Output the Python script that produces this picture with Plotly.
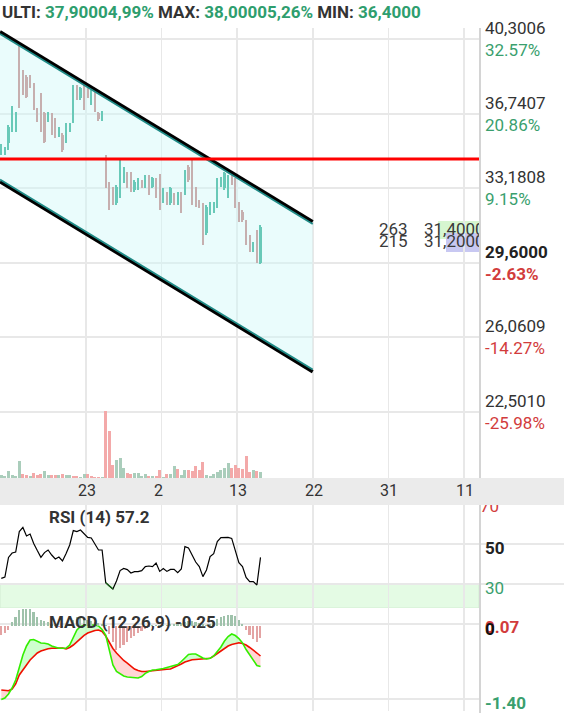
import plotly.graph_objects as go

W, H = 564, 713
FONT = "Roboto"

# ---------------- data ----------------
date_labels = ["23", "2", "13", "22", "31", "11"]
date_pos = [23.5, 44.5, 65.5, 86.5, 107.5, 128.5]
thick_grid = [23.5, 65.5, 86.5, 128.5]
thin_grid = [44.5, 107.5]

opens = [34.81, 34.81, 35.32, 35.95, 35.95, 40.01, 38.74, 38.50, 38.50, 38.10,
         36.91, 37.63, 36.75, 36.43, 36.67, 36.43, 35.71, 35.71, 35.40, 35.95,
         36.35, 38.02, 37.47, 38.02, 37.86, 37.23, 37.78, 36.75, 36.46, 34.50,
         33.40, 33.17, 32.45, 32.77, 33.48, 33.88, 33.88, 33.09, 33.17, 33.48,
         33.25, 33.72, 33.25, 33.56, 33.77, 32.53, 32.93, 32.45, 32.85, 32.45,
         32.93, 32.93, 34.20, 34.44, 33.17, 32.53, 32.37, 31.02, 31.97, 32.05,
         32.29, 33.33, 33.17, 32.77, 33.88, 33.56, 32.45, 32.05, 31.57, 30.86,
         30.22, 31.10, 29.61]
highs = [35.30, 35.14, 36.19, 37.10, 36.82, 40.08, 38.82, 38.58, 38.58, 38.18,
         36.99, 37.71, 36.83, 36.83, 36.75, 36.51, 36.11, 35.79, 36.27, 36.30,
         38.10, 38.10, 38.02, 38.10, 37.94, 37.86, 37.86, 36.83, 36.86, 34.76,
         33.48, 33.25, 33.33, 34.52, 34.20, 33.96, 33.96, 33.56, 33.64, 33.56,
         33.80, 33.80, 33.72, 33.64, 33.85, 33.17, 33.01, 33.25, 32.93, 33.01,
         33.01, 34.04, 34.28, 34.52, 33.25, 32.61, 32.45, 32.37, 32.53, 32.53,
         33.64, 33.72, 33.96, 33.80, 33.96, 33.64, 32.53, 32.13, 31.65, 30.94,
         30.62, 31.18, 31.41]
lows = [34.74, 34.74, 35.00, 35.88, 35.88, 37.00, 37.63, 37.47, 37.94, 36.91,
        36.35, 35.87, 35.32, 36.35, 35.71, 35.55, 35.63, 34.92, 35.32, 35.87,
        36.27, 37.39, 37.39, 36.91, 37.47, 37.15, 36.83, 36.38, 36.38, 33.17,
        32.13, 32.37, 32.37, 32.69, 33.40, 33.17, 33.01, 33.01, 33.09, 33.17,
        33.17, 32.85, 33.17, 32.69, 32.13, 32.45, 32.37, 32.37, 32.37, 32.37,
        31.97, 32.85, 33.48, 32.37, 32.29, 32.21, 30.46, 30.94, 31.89, 31.97,
        32.21, 33.25, 33.09, 32.69, 33.32, 32.21, 31.57, 31.57, 30.46, 30.14,
        30.14, 29.58, 29.53]
closes = [35.24, 35.08, 36.11, 37.04, 36.75, 37.07, 37.71, 37.55, 38.02, 36.99,
          36.43, 35.95, 35.40, 36.75, 35.79, 35.63, 36.03, 35.00, 36.19, 36.22,
          38.02, 37.47, 37.94, 36.99, 37.55, 37.78, 36.91, 36.46, 36.78, 33.25,
          32.21, 32.45, 33.25, 34.20, 34.12, 33.25, 33.09, 33.48, 33.56, 33.25,
          33.72, 32.93, 33.64, 32.77, 32.21, 33.09, 32.45, 33.17, 32.45, 32.93,
          32.05, 33.96, 33.56, 32.45, 32.37, 32.29, 30.54, 32.29, 32.45, 32.45,
          33.56, 33.64, 33.88, 33.72, 33.40, 32.29, 31.65, 31.65, 30.54, 30.22,
          30.54, 29.66, 31.33]

volumes = [3, 2, 7, 3, 2, 17, 4, 3, 2, 5, 3, 4, 7, 3, 3, 3, 3, 4, 3, 3,
           2, 2, 1, 4, 4, 2, 1, 1, 1, 67, 47, 13, 18, 20, 10, 5, 4, 5, 5, 2,
           4, 2, 2, 2, 8, 1, 4, 4, 12, 9, 3, 8, 8, 7, 12, 8, 16, 3, 2, 4,
           6, 8, 10, 15, 10, 13, 10, 9, 22, 6, 8, 7, 6]
volume_up = "gggggg rrgrrrggrrgrgg rrggrrrrg rrrgggrrggggrgrrgrggrgg rrrrrggggggg rrrrrrgrg".replace(" ", "")

rsi = [32.8, 33.5, 43.3, 45.5, 46.0, 56.2, 58.3, 54.0, 55.0, 50.3,
       46.7, 43.3, 45.7, 47.0, 44.5, 42.5, 43.5, 41.5, 45.3, 49.5,
       56.7, 56.2, 57.0, 55.0, 53.3, 53.0, 50.0, 47.0, 47.0, 30.7,
       29.0, 27.5, 31.5, 36.7, 37.8, 37.2, 35.5, 36.2, 36.2, 36.7,
       38.7, 39.0, 38.7, 40.5, 36.3, 37.7, 36.3, 37.3, 37.3, 35.7,
       37.5, 48.7, 48.0, 44.3, 41.0, 38.7, 33.7, 37.0, 43.7, 45.2,
       51.2, 53.2, 53.3, 53.3, 52.8, 47.0, 40.7, 38.7, 33.3, 31.2,
       31.2, 29.5, 43.3]

macd = [-1.409, -1.381, -1.306, -1.194, -1.045, -0.821, -0.578, -0.410, -0.299, -0.289,
        -0.326, -0.354, -0.360, -0.373, -0.410, -0.429, -0.453, -0.453, -0.448, -0.392,
        -0.237, -0.112, -0.047, -0.024, -0.019, -0.019, -0.019, -0.037, -0.103, -0.205,
        -0.485, -0.765, -0.886, -0.933, -0.970, -0.989, -0.998, -1.007, -1.007, -0.979,
        -0.920, -0.886, -0.858, -0.853, -0.845, -0.830, -0.812, -0.797, -0.776, -0.756,
        -0.700, -0.625, -0.569, -0.560, -0.560, -0.597, -0.634, -0.653, -0.640, -0.597,
        -0.522, -0.429, -0.317, -0.233, -0.187, -0.215, -0.271, -0.354, -0.476, -0.578,
        -0.672, -0.774, -0.793]
signal = [-1.231, -1.237, -1.244, -1.213, -1.119, -0.951, -0.868, -0.765, -0.672, -0.597,
          -0.541, -0.504, -0.481, -0.463, -0.451, -0.448, -0.444, -0.448, -0.466, -0.438,
          -0.392, -0.326, -0.261, -0.211, -0.168, -0.140, -0.121, -0.112, -0.140, -0.224,
          -0.336, -0.457, -0.541, -0.616, -0.681, -0.728, -0.793, -0.840, -0.868, -0.886,
          -0.886, -0.877, -0.873, -0.868, -0.858, -0.853, -0.845, -0.840, -0.812, -0.784,
          -0.746, -0.709, -0.681, -0.668, -0.662, -0.659, -0.653, -0.647, -0.640, -0.597,
          -0.550, -0.504, -0.457, -0.410, -0.382, -0.364, -0.349, -0.364, -0.392, -0.438,
          -0.485, -0.541, -0.597]
hist = [-9, -7, -4, 4, 9, 16, 17, 17, 17, 14, 9, 6, 5, 4, 2, 1, -0.5, -0.5, 1, 2,
        6, 9, 9, 8, 6, 5, 4, 3, 2, 1, -8, -16, -24, -22, -19, -16, -12, -10, -7, -5,
        -3, -1, 1, 1, 1, 1, 1, 2, 2, 2, 3, 4, 5, 5, 4, 3, 2, 1, 2, 4,
        7, 9, 10, 11, 11, 10, 6, 2, -4, -9, -13, -16, -12]

channel_x = [-0.36, 86.5]
channel_upper = [40.649, 31.571]
channel_lower = [33.483, 24.405]
resistance = 34.567

price_ticks = [40.3006, 36.7407, 33.1808, 29.6000, 26.0609, 22.5010]
price_text = ["40,3006", "36,7407", "33,1808", "29,6000", "26,0609", "22,5010"]
pct_text = ["32.57%", "20.86%", "9.15%", "-2.63%", "-14.27%", "-25.98%"]

book_qty = ["263", "215"]
book_px = ["31,4000", "31,2000"]

# ---------------- geometry helpers (layout only) ----------------
PX_PER_BAR = 3.6
X0 = -0.36
XR = [X0, 479 / PX_PER_BAR + X0]
PRICE_R = [19.326, 40.826]          # px 478 .. 28
PPX = 20.93                          # px per price unit


def idx_of(px):
    return px / PX_PER_BAR + X0


def price_of(py):
    return 40.3006 - (py - 39) / PPX


def ypap(py):
    return 1 - py / H


n = len(closes)
xs = list(range(n))

G_CANDLE, R_CANDLE = "#22a88a", "#c27a7a"
G_VOL, R_VOL = "#aacdbb", "#f3a9a9"
G_HIST, R_HIST = "#9fc2ab", "#e3a3a3"
GRID = "#e8e8e8"
TXT = "#333333"
GREEN_T = "#3a9f6e"
RED_T = "#d23c3c"

fig = go.Figure()

# channel fill
fig.add_trace(go.Scatter(
    x=[channel_x[0], channel_x[1], channel_x[1], channel_x[0], channel_x[0]],
    y=[channel_upper[0], channel_upper[1], channel_lower[1], channel_lower[0], channel_upper[0]],
    fill="toself", fillcolor="rgba(205,248,248,0.42)", line=dict(width=0),
    mode="lines", hoverinfo="skip", showlegend=False))

# order book backgrounds
fig.add_shape(type="rect", xref="x", yref="y", x0=idx_of(438), x1=idx_of(481),
              y0=price_of(239), y1=price_of(221), fillcolor="#d6f6d0", line_width=0, layer="below")
fig.add_shape(type="rect", xref="x", yref="y", x0=idx_of(446), x1=idx_of(481),
              y0=price_of(252), y1=price_of(233), fillcolor="#c8c8f2", line_width=0, layer="below")

up = [c >= o for o, c in zip(opens, closes)]
ccol = [G_CANDLE if u else R_CANDLE for u in up]

# wicks
fig.add_trace(go.Bar(x=xs, y=[h - l for h, l in zip(highs, lows)], base=lows,
                     width=0.3, marker=dict(color=ccol, line_width=0),
                     hoverinfo="skip", showlegend=False))
# bodies
fig.add_trace(go.Bar(x=xs, y=[max(abs(c - o), 0.04) for o, c in zip(opens, closes)],
                     base=[min(o, c) for o, c in zip(opens, closes)],
                     width=0.62, marker=dict(color=ccol, line_width=0),
                     hoverinfo="skip", showlegend=False))

# channel lines: black edge + teal inner
off = 2.2 / PPX
for ys, sgn in ((channel_upper, -1), (channel_lower, 1)):
    fig.add_trace(go.Scatter(x=channel_x, y=ys, mode="lines",
                             line=dict(color="#000000", width=3.4), hoverinfo="skip", showlegend=False))
    fig.add_trace(go.Scatter(x=channel_x, y=[v + sgn * off for v in ys], mode="lines",
                             line=dict(color="#1f8a86", width=1.8), hoverinfo="skip", showlegend=False))

# resistance line
fig.add_trace(go.Scatter(x=XR, y=[resistance, resistance], mode="lines",
                         line=dict(color="#ff0000", width=3), hoverinfo="skip", showlegend=False))

# order book text (clipped at plot edge)
for k, (q, p) in enumerate(zip(book_qty, book_px)):
    yv = price_of(231 + 12 * k)
    fig.add_trace(go.Scatter(x=[idx_of(379), idx_of(424)], y=[yv, yv], mode="text",
                             text=[q, p], textposition="middle right", cliponaxis=True,
                             textfont=dict(family=FONT, size=17, color="#3a3a3a"),
                             hoverinfo="skip", showlegend=False))

# volume (overlay axis)
fig.add_trace(go.Bar(x=xs, y=volumes, yaxis="y4", width=0.82,
                     marker=dict(color=[G_VOL if c == "g" else R_VOL for c in volume_up], line_width=0),
                     hoverinfo="skip", showlegend=False))

# RSI
fig.add_trace(go.Scatter(x=xs, y=rsi, xaxis="x2", yaxis="y2", mode="lines",
                         line=dict(color="#000000", width=1.2), hoverinfo="skip", showlegend=False))
seg = []
for i, v in enumerate(rsi):
    near = any(rsi[j] < 30 for j in range(max(0, i - 1), min(n, i + 2)))
    seg.append(v if (near and v < 31) else None)
fig.add_trace(go.Scatter(x=xs, y=seg, xaxis="x2", yaxis="y2", mode="lines",
                         line=dict(color="#1a6e1a", width=1.2), connectgaps=False,
                         hoverinfo="skip", showlegend=False))

# MACD histogram (overlay axis)
fig.add_trace(go.Bar(x=xs, y=hist, xaxis="x3", yaxis="y5", width=0.45,
                     marker=dict(color=[G_HIST if h >= 0 else R_HIST for h in hist], line_width=0),
                     hoverinfo="skip", showlegend=False))

# MACD fills (insert crossings)
fx, fm, fs = [], [], []
for i in range(n):
    fx.append(i); fm.append(macd[i]); fs.append(signal[i])
    if i < n - 1:
        d0 = macd[i] - signal[i]
        d1 = macd[i + 1] - signal[i + 1]
        if d0 * d1 < 0:
            t = d0 / (d0 - d1)
            yc = macd[i] + t * (macd[i + 1] - macd[i])
            fx.append(i + t); fm.append(yc); fs.append(yc)
hi = [max(a, b) for a, b in zip(fm, fs)]
lo = [min(a, b) for a, b in zip(fm, fs)]
for yy, col in ((hi, "rgba(190,255,190,0.75)"), (lo, "rgba(255,200,200,0.75)")):
    fig.add_trace(go.Scatter(x=fx, y=fs, xaxis="x3", yaxis="y3", mode="lines",
                             line=dict(width=0), hoverinfo="skip", showlegend=False))
    fig.add_trace(go.Scatter(x=fx, y=yy, xaxis="x3", yaxis="y3", mode="lines",
                             line=dict(width=0), fill="tonexty", fillcolor=col,
                             hoverinfo="skip", showlegend=False))
fig.add_trace(go.Scatter(x=xs, y=signal, xaxis="x3", yaxis="y3", mode="lines",
                         line=dict(color="#f01000", width=1.6), hoverinfo="skip", showlegend=False))
fig.add_trace(go.Scatter(x=xs, y=macd, xaxis="x3", yaxis="y3", mode="lines",
                         line=dict(color="#33ee00", width=1.6), hoverinfo="skip", showlegend=False))

# "70" label clipped by its own little subplot
fig.add_trace(go.Scatter(x=[0.0], y=[68], xaxis="x4", yaxis="y2", mode="text", text=["70"],
                         textposition="middle right", cliponaxis=True,
                         textfont=dict(family=FONT, size=17, color=RED_T),
                         hoverinfo="skip", showlegend=False))

# ---------------- layout ----------------
XD = [0, 479 / W]
price_dom = [ypap(478), ypap(28)]
rsi_dom = [ypap(608), ypap(505)]
macd_dom = [ypap(711), ypap(608)]

xcommon = dict(range=XR, showticklabels=False, zeroline=False, showline=False,
               tickvals=thick_grid, showgrid=True, gridcolor=GRID, gridwidth=2,
               minor=dict(tickvals=thin_grid, showgrid=True, gridcolor=GRID, gridwidth=1),
               fixedrange=True)
ycommon = dict(showticklabels=False, zeroline=False, showline=False, showgrid=True,
               gridcolor=GRID, fixedrange=True)

fig.update_layout(
    width=W, height=H, margin=dict(l=0, r=0, t=0, b=0),
    paper_bgcolor="white", plot_bgcolor="rgba(0,0,0,0)",
    barmode="overlay", bargap=0, showlegend=False,
    font=dict(family=FONT, color=TXT),
    xaxis=dict(domain=XD, anchor="y", **xcommon),
    xaxis2=dict(domain=XD, anchor="y2", matches="x", **xcommon),
    xaxis3=dict(domain=XD, anchor="y3", matches="x", **xcommon),
    xaxis4=dict(domain=[480 / W, 1], anchor="y2", range=[0, 1], visible=False, fixedrange=True),
    yaxis=dict(domain=price_dom, range=PRICE_R, tickvals=price_ticks, gridwidth=2, **ycommon),
    yaxis4=dict(overlaying="y", range=[0, 450], visible=False, fixedrange=True),
    yaxis2=dict(domain=rsi_dom, range=[18, 69.5], tickvals=[50, 30], gridwidth=1.5, **ycommon),
    yaxis3=dict(domain=macd_dom, range=[-1.623, 0.2985], tickvals=[0, -1.40], gridwidth=1.5, **ycommon),
    yaxis5=dict(overlaying="y3", range=[-85, 18], visible=False, fixedrange=True),
)

shapes = [
    # date band
    dict(type="rect", xref="paper", yref="paper", x0=0, x1=1, y0=ypap(505), y1=ypap(478),
         fillcolor="#ebebeb", line_width=0, layer="below"),
    # RSI oversold band
    dict(type="rect", xref="x2", yref="y2", x0=XR[0], x1=XR[1], y0=18, y1=30,
         fillcolor="#e4fbe4", line=dict(color="#d2ecd2", width=1), layer="below"),
    # right axis line
    dict(type="line", xref="paper", yref="paper", x0=480 / W, x1=480 / W, y0=ypap(478), y1=ypap(28),
         line=dict(color="#d4d4d4", width=2)),
    dict(type="line", xref="paper", yref="paper", x0=480 / W, x1=480 / W, y0=ypap(713), y1=ypap(505),
         line=dict(color="#d4d4d4", width=2)),
]
for s in shapes:
    fig.add_shape(**s)

ann = []
LX = 483 / W
for v, t, p in zip(price_ticks, price_text, pct_text):
    bold = (t == "29,6000")
    ann.append(dict(x=LX, xref="paper", y=v, yref="y", yshift=11, xanchor="left", yanchor="middle",
                    text=f"<b>{t}</b>" if bold else t, showarrow=False,
                    font=dict(family=FONT, size=17, color="#222222" if bold else TXT)))
    neg = p.startswith("-")
    ann.append(dict(x=LX, xref="paper", y=v, yref="y", yshift=-11, xanchor="left", yanchor="middle",
                    text=f"<b>{p}</b>" if bold else p, showarrow=False,
                    font=dict(family=FONT, size=17, color=RED_T if neg else GREEN_T)))
for pos, lab in zip(date_pos, date_labels):
    ann.append(dict(x=pos, xref="x", y=ypap(491), yref="paper", xanchor="left", xshift=-10,
                    yanchor="middle", text=lab, showarrow=False,
                    font=dict(family=FONT, size=16, color=TXT)))
ann += [
    dict(x=LX, xref="paper", y=50, yref="y2", yshift=-4, xanchor="left", yanchor="middle",
         text="<b>50</b>", showarrow=False, font=dict(family=FONT, size=17, color="#222222")),
    dict(x=LX, xref="paper", y=30, yref="y2", yshift=-4, xanchor="left", yanchor="middle",
         text="30", showarrow=False, font=dict(family=FONT, size=17, color=GREEN_T)),
    dict(x=LX, xref="paper", y=0, yref="y3", yshift=-3, xanchor="left", yanchor="middle",
         text="<b>0.07</b>", showarrow=False, font=dict(family=FONT, size=17, color=RED_T)),
    dict(x=LX, xref="paper", y=0, yref="y3", yshift=-5, xanchor="left", yanchor="middle",
         text="<b>0</b>", showarrow=False, font=dict(family=FONT, size=17, color="#111111")),
    dict(x=LX, xref="paper", y=-1.40, yref="y3", yshift=-4, xanchor="left", yanchor="middle",
         text="<b>-1.40</b>", showarrow=False, font=dict(family=FONT, size=17, color=GREEN_T)),
    dict(x=99 / W, xref="paper", y=ypap(517), yref="paper", xanchor="center", yanchor="middle",
         text="<b>RSI (14) 57.2</b>", showarrow=False, font=dict(family=FONT, size=17, color=TXT)),
    dict(x=132 / W, xref="paper", y=ypap(622), yref="paper", xanchor="center", yanchor="middle",
         text="<b>MACD (12,26,9) -0.25</b>", showarrow=False, font=dict(family=FONT, size=17, color=TXT)),
    dict(x=0, xref="paper", y=ypap(12), yref="paper", xanchor="left", yanchor="middle",
         text=("<b>ULTI: <span style='color:#2e9e6e'>37,90004,99%</span> MAX: "
               "<span style='color:#2e9e6e'>38,00005,26%</span> MIN: "
               "<span style='color:#2e9e6e'>36,4000</span></b>"),
         showarrow=False, font=dict(family=FONT, size=17, color=TXT)),
]
fig.update_layout(annotations=ann)

fig.write_html("out.html")
